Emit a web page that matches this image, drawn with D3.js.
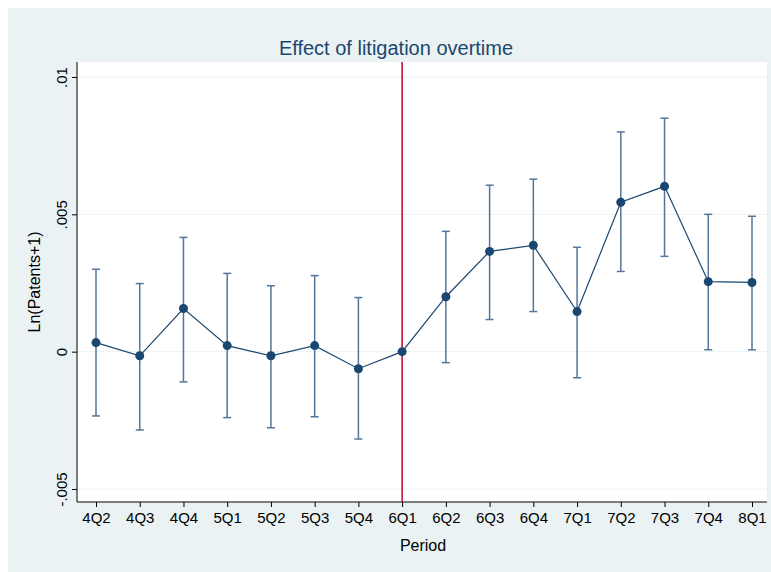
<!DOCTYPE html>
<html><head><meta charset="utf-8">
<script src="https://cdn.jsdelivr.net/npm/d3@7"></script>
<style>body{margin:0;background:#fff}svg{font-family:"Liberation Sans",Arial,sans-serif}</style>
</head><body><svg id="c" width="771" height="572"></svg>
<script>
const periods=["4Q2","4Q3","4Q4","5Q1","5Q2","5Q3","5Q4","6Q1","6Q2","6Q3","6Q4","7Q1","7Q2","7Q3","7Q4","8Q1"];
const coef=[0.00033,-0.00015,0.00157,0.00022,-0.00015,0.00022,-0.00062,0,0.0020,0.00365,0.00387,0.00146,0.00544,0.00602,0.00255,0.00252];
const upper=[0.0030,0.00248,0.00416,0.00285,0.0024,0.00277,0.00197,null,0.00438,0.00606,0.00628,0.0038,0.0080,0.0085,0.0050,0.00493];
const lower=[-0.00234,-0.00285,-0.0011,-0.0024,-0.00277,-0.00237,-0.00318,null,-0.0004,0.00117,0.00146,-0.00095,0.00292,0.00347,0.00007,0.00007];
const yTicks=[-0.005,0,0.005,0.01];
const yLabels=["-.005","0",".005",".01"];

const svg=d3.select("#c");
svg.append("rect").attr("x",8).attr("y",8).attr("width",763).attr("height",564).attr("fill","#eaf2f3");
const L=77,R=767,T=62,B=502;
svg.append("rect").attr("x",L).attr("y",T).attr("width",R-L).attr("height",B-T).attr("fill","#fff");
const x=d3.scalePoint().domain(periods).range([96,752]);
const y=d3.scaleLinear().domain([-0.005,0.01]).range([489,77]);
const g=svg.append("g");
yTicks.forEach(t=>g.append("line").attr("x1",L).attr("x2",R).attr("y1",y(t)).attr("y2",y(t)).attr("stroke","#eaf2f3").attr("stroke-width",1));
const ya=svg.append("g").attr("transform",`translate(${L},0)`).call(d3.axisLeft(y).tickValues(yTicks).tickFormat((d,i)=>yLabels[i]).tickSize(5));
ya.selectAll("text").attr("transform","rotate(-90)").attr("x",0).attr("y",-10).attr("dy","0").attr("text-anchor","middle").attr("font-size",15).attr("fill","#000").attr("font-family","Liberation Sans, Arial");
const xa=svg.append("g").attr("transform",`translate(0,${B})`).call(d3.axisBottom(x).tickSize(5));
xa.selectAll("text").attr("font-size",15).attr("fill","#000").attr("font-family","Liberation Sans, Arial").attr("dy","0.85em");
xa.select(".domain").attr("d",`M${L},0H${R}`);
ya.select(".domain").attr("d",`M0,${T}V${B}`);
svg.selectAll(".domain,.tick line").attr("stroke","#000");
svg.append("line").attr("x1",x("6Q1")).attr("x2",x("6Q1")).attr("y1",T).attr("y2",B).attr("stroke","#c10534").attr("stroke-width",1.5);
const col="#55759a";
periods.forEach((p,i)=>{ if(upper[i]==null)return;
  const cx=x(p);
  g.append("line").attr("x1",cx).attr("x2",cx).attr("y1",y(upper[i])).attr("y2",y(lower[i])).attr("stroke",col).attr("stroke-width",1.5);
  [upper[i],lower[i]].forEach(v=>g.append("line").attr("x1",cx-4).attr("x2",cx+4).attr("y1",y(v)).attr("y2",y(v)).attr("stroke",col).attr("stroke-width",1.5));
});
svg.append("path").attr("d",d3.line().x((d,i)=>x(periods[i])).y(d=>y(d))(coef)).attr("fill","none").attr("stroke","#1a476f").attr("stroke-width",1.2);
svg.selectAll(".pt").data(coef).join("circle").attr("cx",(d,i)=>x(periods[i])).attr("cy",d=>y(d)).attr("r",4.5).attr("fill","#1a476f");
svg.append("text").attr("x",396).attr("y",55).attr("text-anchor","middle").attr("font-size",20).attr("fill","#1a476f").text("Effect of litigation overtime");
svg.append("text").attr("x",423).attr("y",551).attr("text-anchor","middle").attr("font-size",16).text("Period");
svg.append("text").attr("transform","translate(40,282) rotate(-90)").attr("text-anchor","middle").attr("font-size",16).text("Ln(Patents+1)");
</script></body></html>
